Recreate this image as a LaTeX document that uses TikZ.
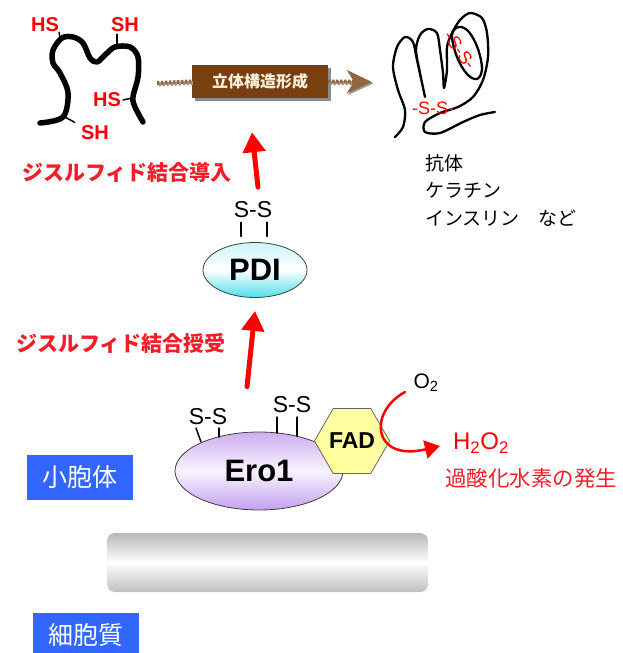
\documentclass[tikz,border=0pt]{standalone}
\usepackage{fontspec}
\setmainfont{Liberation Sans}
\newfontfamily\jp{Noto Sans CJK JP}
\usetikzlibrary{shapes.geometric,arrows.meta,shadows}
\definecolor{foldbrown}{RGB}{120,64,16}
\definecolor{cream}{RGB}{250,240,220}
\definecolor{erolav}{RGB}{196,160,240}
\definecolor{pdicyan}{RGB}{80,222,235}
\definecolor{hexyellow}{RGB}{255,255,160}
\definecolor{regionblue}{RGB}{51,102,255}
\definecolor{labelred}{RGB}{240,30,40}

\begin{document}
\begin{tikzpicture}[x=1pt, y=-1pt, line join=round, line cap=round,
    chain/.style={line width=5.5pt},
    stub/.style={line width=1.5pt},
    redarrow/.style={draw=red, line width=5pt, -{Triangle[width=22pt,length=20pt]}},
    dotlink/.style={line width=4pt, line cap=butt, dash pattern=on 2.4pt off 1.6pt},
    thiol/.style={text=red, font=\bfseries\fontsize{20}{20}\selectfont, inner sep=0pt},
    bridge/.style={font=\fontsize{23}{23}\selectfont, inner sep=0pt},
    redbridge/.style={text=red, font=\fontsize{18}{18}\selectfont, inner sep=0pt},
    jplabel/.style={text=labelred, font=\jp\bfseries\fontsize{21}{21}\selectfont, inner sep=0pt},
    region/.style={fill=regionblue, text=white, font=\jp\fontsize{25}{25}\selectfont,
      minimum width=106pt, minimum height=45pt, inner sep=0pt}]
  \useasboundingbox (0,0) rectangle (622,653);

  % unfolded chain with free thiols
  \draw[chain] plot[smooth, tension=0.55] coordinates {(40,123) (63,117) (68,93) (60,73)
    (53,63) (53,50) (62,38) (73,37) (83,43) (90,58) (97,62) (105,55) (115,47) (130,47)
    (138,57) (138,77) (133,97) (135,107) (143,122)};
  \path (60,38) coordinate (t1) (117,47) coordinate (t2)
        (132,98) coordinate (t3) (63,116) coordinate (t4);
  \node[thiol] (hs1) at (45,25) {HS};
  \node[thiol] (sh2) at (125,25) {SH};
  \node[thiol] (hs3) at (107,100) {HS};
  \node[thiol] (sh4) at (95,133) {SH};
  \draw[stub] (t1) -- (hs1.south east);
  \draw[stub] (t2) -- ([xshift=-8pt,yshift=-2pt]sh2.south);
  \draw[stub] (t3) -- ([xshift=2pt]hs3.east);
  \draw[stub, shorten >=7pt] (t4) -- (sh4.north west);

  % folding step
  \node[fill=foldbrown, text=cream, minimum width=136pt, minimum height=33pt,
    font=\jp\bfseries\fontsize{16}{16}\selectfont,
    drop shadow={shadow xshift=3pt, shadow yshift=-3pt, fill=black!45, opacity=1}]
    (fold) at (260,81.5) {立体構造形成};
  \coordinate (chainR) at (157,83);
  \coordinate (foldL) at (372,82);
  \begin{scope}[transform canvas={xshift=1.5pt, yshift=-1.5pt}]
    \draw[dotlink, black!40] (chainR) -- (fold.west);
    \draw[dotlink, black!40, -{Stealth[width=23pt,length=25pt,inset=7pt]}] (fold.east) -- (foldL);
  \end{scope}
  \draw[dotlink, foldbrown!80] (chainR) -- (fold.west);
  \draw[dotlink, foldbrown!80, -{Stealth[width=23pt,length=25pt,inset=7pt]}] (fold.east) -- (foldL);

  % folded protein with disulfide bridges
  \draw[line width=2.3pt] plot[smooth, tension=0.5] coordinates {(395,137) (403,127) (405,110)
    (398,90) (393,67) (397,47) (405,37) (413,42) (417,60) (422,83) (425,97) (420,73) (416,50)
    (420,35) (428,29) (437,33) (440,50) (443,73) (444,88) (447,70) (447,47) (452,33) (460,20)
    (470,13) (482,18) (487,33) (488,57) (483,80) (473,97) (458,107) (440,113) (425,122)
    (425,132) (440,133) (463,122) (480,115) (495,112)};
  \draw[line width=2.3pt] plot[smooth cycle, tension=0.6] coordinates {(452,35) (457,57)
    (467,74) (477,79) (482,69) (478,49) (469,32) (459,27)};
  \node[redbridge, rotate=-55] (ss4) at (460,50) {-S-S-};
  \node[redbridge] (ss5) at (433,108) {-S-S-};
  \node[anchor=west, align=left, inner sep=0pt, font=\jp\fontsize{19}{27.5}\selectfont]
    (examples) at (425,190) {抗体\\ケラチン\\インスリン　など};

  % PDI
  \node[ellipse, draw=black!75, line width=0.8pt, minimum width=104pt, minimum height=55pt,
    inner sep=0pt, top color=pdicyan!30, bottom color=pdicyan, middle color=white,
    font=\bfseries\fontsize{31}{31}\selectfont] (pdi) at (255,270) {PDI};
  \node[bridge] (ss1) at (253,210) {S-S};
  \draw[stub] ([xshift=-12pt,yshift=-4pt]ss1.south) -- ++(0,14);
  \draw[stub] ([xshift=14pt,yshift=-4pt]ss1.south) -- ++(0,14);
  \draw[redarrow] ([xshift=3pt,yshift=55pt]pdi.north) -- ([xshift=-8pt,yshift=-34pt]fold.south);
  \node[jplabel] (intro) at (127,173) {ジスルフィド結合導入};

  % Ero1 and FAD
  \node[ellipse, draw=black!75, line width=0.8pt, minimum width=168pt, minimum height=78pt,
    inner sep=0pt, top color=erolav!85, bottom color=erolav, middle color=white!88!erolav,
    font=\bfseries\fontsize{31}{31}\selectfont] (ero) at (259,471) {Ero1};
  \node[bridge] (ss2) at (208,417) {S-S};
  \node[bridge] (ss3) at (292,405) {S-S};
  \draw[stub] (196,428) -- (201,442);
  \draw[stub] (219,428) -- (219,437);
  \draw[stub] (277,417) -- (277,433);
  \draw[stub] (297,417) -- (297,436);
  \node[regular polygon, regular polygon sides=6, minimum size=70pt, inner sep=0pt,
    fill=hexyellow, draw=black!60, line width=0.8pt,
    font=\bfseries\fontsize{23}{23}\selectfont] (fad) at (352,441) {FAD};
  \draw[redarrow] ([xshift=-12pt,yshift=45pt]ero.north) -- ([yshift=-13pt]pdi.south);
  \node[jplabel] (relay) at (121,343) {ジスルフィド結合授受};

  % oxygen to hydrogen peroxide
  \node[inner sep=0pt, font=\fontsize{21}{21}\selectfont] (o2) at (426,383) {O\textsubscript{2}};
  \node[inner sep=0pt, text=red, font=\fontsize{24}{24}\selectfont] (h2o2) at (481,443)
    {H\textsubscript{2}O\textsubscript{2}};
  \node[inner sep=0pt, text=labelred, font=\jp\fontsize{21.5}{21.5}\selectfont] (peroxide)
    at (531,478) {過酸化水素の発生};
  \draw[red, line width=2.5pt, -{Triangle[width=18pt,length=15pt]}]
    ([xshift=-21pt,yshift=-9pt]o2.center) .. controls (368,412) and (372,462)
    .. ([xshift=-13pt,yshift=-3pt]h2o2.west);

  % membrane and compartments
  \shade[rounded corners=8pt, top color=black!28, bottom color=black!25, middle color=white]
    (107,533) rectangle (428,592);
  \node[region] (er) at (80,477.5) {小胞体};
  \node[region] (cyto) at (85.5,635) {細胞質};
\end{tikzpicture}
\end{document}
